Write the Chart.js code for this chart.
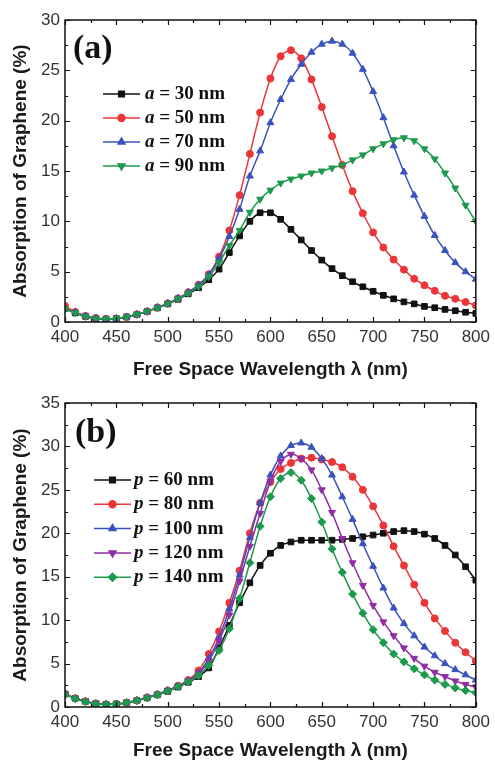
<!DOCTYPE html>
<html>
<head>
<meta charset="utf-8">
<script src="https://cdn.jsdelivr.net/npm/chart.js@4.4.1/dist/chart.umd.min.js"></script>
<style>
  html, body { margin: 0; padding: 0; background: #fff; }
  .panel { position: absolute; left: 0; width: 495px; }
  #panelA { top: 0; height: 380px; }
  #panelB { top: 380px; height: 381px; }
</style>
</head>
<body>
<div class="panel" id="panelA"><canvas id="chartA"></canvas></div>
<div class="panel" id="panelB"><canvas id="chartB"></canvas></div>
<script>
// Longueurs d'onde (nm), un point tous les 10 nm
const wavelength = [400, 410, 420, 430, 440, 450, 460, 470, 480, 490, 500,
  510, 520, 530, 540, 550, 560, 570, 580, 590, 600,
  610, 620, 630, 640, 650, 660, 670, 680, 690, 700,
  710, 720, 730, 740, 750, 760, 770, 780, 790, 800];

// (a) absorption pour différentes tailles a
const aSizes = [30, 50, 70, 90];
const a30 = [1.35, 0.9, 0.55, 0.35, 0.3, 0.35, 0.5, 0.75, 1.05, 1.4, 1.8,
  2.25, 2.8, 3.4, 4.2, 5.25, 6.9, 8.55, 10.0, 10.85, 10.85,
  10.2, 9.2, 8.15, 7.1, 6.15, 5.3, 4.6, 4.0, 3.5, 3.05,
  2.65, 2.3, 2.0, 1.8, 1.55, 1.42, 1.25, 1.12, 0.97, 0.85];
const a50 = [1.6, 1.0, 0.6, 0.4, 0.3, 0.35, 0.5, 0.75, 1.05, 1.45, 1.85,
  2.35, 2.95, 3.7, 4.75, 6.5, 9.1, 12.6, 16.7, 20.8, 24.2,
  26.4, 27.0, 26.2, 24.1, 21.35, 18.45, 15.6, 13.0, 10.8, 8.9,
  7.4, 6.2, 5.2, 4.3, 3.65, 3.1, 2.6, 2.3, 1.98, 1.65];
const a70 = [1.3, 0.95, 0.6, 0.4, 0.3, 0.35, 0.5, 0.75, 1.05, 1.45, 1.85,
  2.35, 2.95, 3.65, 4.7, 6.3, 8.5, 11.2, 14.5, 17.0, 19.8,
  22.1, 24.1, 25.6, 26.8, 27.6, 27.9, 27.6, 26.7, 25.1, 22.9,
  20.3, 17.5, 14.9, 12.6, 10.5, 8.6, 7.1, 5.9, 5.0, 4.25];
const a90 = [1.3, 0.9, 0.55, 0.35, 0.3, 0.35, 0.5, 0.75, 1.05, 1.4, 1.8,
  2.3, 2.85, 3.5, 4.5, 5.9, 7.6, 9.1, 10.9, 12.2, 13.1,
  13.8, 14.2, 14.5, 14.8, 15.0, 15.3, 15.6, 16.1, 16.6, 17.2,
  17.7, 18.1, 18.3, 18.0, 17.2, 16.2, 14.8, 13.3, 11.6, 10.0];

// (b) absorption pour différentes périodes p
const pSizes = [60, 80, 100, 120, 140];
const p60 = [1.5, 1.0, 0.65, 0.4, 0.3, 0.35, 0.5, 0.75, 1.05, 1.4, 1.8,
  2.3, 2.85, 3.5, 4.5, 6.8, 9.4, 12.0, 14.3, 16.3, 17.7,
  18.6, 19.0, 19.2, 19.2, 19.2, 19.2, 19.3, 19.4, 19.6, 19.8,
  20.0, 20.2, 20.3, 20.2, 19.9, 19.4, 18.6, 17.5, 16.15, 14.6];
const p80 = [1.5, 1.0, 0.65, 0.4, 0.3, 0.35, 0.5, 0.75, 1.1, 1.45, 1.9,
  2.45, 3.1, 4.2, 6.1, 8.7, 12.0, 15.7, 20.0, 23.5, 25.9,
  27.4, 28.1, 28.6, 28.7, 28.5, 28.2, 27.6, 26.5, 25.0, 23.1,
  20.9, 18.5, 16.3, 14.1, 12.0, 10.2, 8.75, 7.4, 6.3, 5.3];
const p100 = [1.5, 1.0, 0.65, 0.4, 0.3, 0.35, 0.5, 0.75, 1.1, 1.45, 1.9,
  2.4, 3.0, 3.9, 5.6, 8.0, 11.3, 15.2, 19.5, 23.5, 26.7,
  28.9, 30.1, 30.4, 29.9, 28.6, 26.7, 24.2, 21.6, 18.8, 16.2,
  13.7, 11.4, 9.6, 8.2, 6.9, 5.9, 5.0, 4.3, 3.7, 3.1];
const p120 = [1.5, 1.0, 0.65, 0.4, 0.3, 0.35, 0.5, 0.75, 1.1, 1.45, 1.9,
  2.4, 3.0, 3.8, 5.3, 7.6, 10.6, 14.5, 18.5, 22.3, 26.0,
  28.3, 29.1, 28.6, 27.3, 25.0, 22.4, 19.4, 16.6, 14.0, 11.7,
  9.8, 8.2, 6.8, 5.6, 4.7, 4.0, 3.5, 3.0, 2.6, 2.3];
const p140 = [1.45, 0.95, 0.6, 0.35, 0.3, 0.35, 0.5, 0.75, 1.05, 1.4, 1.85,
  2.35, 2.9, 3.6, 4.8, 6.5, 9.0, 12.5, 16.6, 20.8, 24.2,
  26.3, 27.0, 26.1, 24.0, 21.3, 18.2, 15.5, 13.0, 10.8, 8.9,
  7.4, 6.1, 5.2, 4.4, 3.7, 3.1, 2.6, 2.2, 1.9, 1.65];

const serif = '"Liberation Serif", "Times New Roman", serif';
const sans = '"Liberation Sans", Arial, sans-serif';

const BLACK = "#111111", RED = "#ec3538", BLUE = "#3a52bd", GREEN = "#1c9a4c", PURPLE = "#8f2fa3";

function makeSet(values, color, style, rot, radius, idx, total) {
  return {
    data: wavelength.map((w, i) => ({ x: w, y: values[i] })),
    borderColor: color,
    backgroundColor: color,
    borderWidth: 1.5,
    pointStyle: style,
    pointRotation: rot,
    pointRadius: radius,
    pointBorderWidth: 1,
    tension: 0.3,
    order: total - 1 - idx, // la dernière série passe au-dessus
  };
}

// Cadre + graduations vers l'intérieur sur les quatre côtés
const frameTicks = {
  id: "frameTicks",
  afterDatasetsDraw(chart) {
    const { ctx, chartArea: a, scales: { x, y } } = chart;
    ctx.save();
    ctx.strokeStyle = "#111";
    ctx.lineWidth = 1.2;
    ctx.beginPath();
    for (let v = x.min; v <= x.max; v += 25) {
      const px = Math.round(x.getPixelForValue(v)) + 0.5;
      const len = v % 50 === 0 ? 5 : 3;
      ctx.moveTo(px, a.bottom); ctx.lineTo(px, a.bottom - len);
      ctx.moveTo(px, a.top); ctx.lineTo(px, a.top + len);
    }
    for (let v = y.min; v <= y.max; v += 2.5) {
      const py = Math.round(y.getPixelForValue(v)) + 0.5;
      const len = v % 5 === 0 ? 5 : 3;
      ctx.moveTo(a.left, py); ctx.lineTo(a.left + len, py);
      ctx.moveTo(a.right, py); ctx.lineTo(a.right - len, py);
    }
    ctx.stroke();
    ctx.lineWidth = 1.5;
    ctx.strokeRect(a.left, a.top, a.right - a.left, a.bottom - a.top);
    ctx.restore();
  },
};

// Légende façon Origin : trait + symbole, variable en italique
const lineLegend = {
  id: "lineLegend",
  afterDraw(chart, args, opts) {
    const { ctx } = chart;
    ctx.save();
    chart.data.datasets.forEach((ds, i) => {
      const y = opts.top + i * opts.step;
      ctx.strokeStyle = ds.borderColor;
      ctx.lineWidth = 1.5;
      ctx.beginPath();
      ctx.moveTo(opts.x0, y);
      ctx.lineTo(opts.x1, y);
      ctx.stroke();
      ctx.fillStyle = ds.backgroundColor;
      Chart.helpers.drawPoint(ctx, { pointStyle: ds.pointStyle, rotation: ds.pointRotation, radius: ds.pointRadius, borderWidth: 1 }, (opts.x0 + opts.x1) / 2, y);
      ctx.fillStyle = "#111";
      ctx.textBaseline = "middle";
      ctx.font = "italic bold 19px " + serif;
      ctx.fillText(opts.varName, opts.textX, y);
      const w = ctx.measureText(opts.varName).width;
      ctx.font = "bold 19px " + serif;
      ctx.fillText(" = " + opts.sizes[i] + " nm", opts.textX + w, y);
    });
    ctx.font = "bold 34px " + serif;
    ctx.fillText(opts.panel, opts.panelX, opts.panelY);
    ctx.restore();
  },
};

function makeOptions(yMax, topPad, xHeight, legend) {
  return {
    responsive: true,
    maintainAspectRatio: false,
    devicePixelRatio: 1,
    animation: false,
    layout: { padding: { top: topPad, right: 16, left: 0, bottom: 0 } },
    plugins: { legend: { display: false }, tooltip: { enabled: false }, lineLegend: legend },
    scales: {
      x: {
        type: "linear", min: 400, max: 800,
        afterFit: (s) => { s.height = xHeight; },
        grid: { display: false, drawTicks: false },
        border: { display: false },
        ticks: { stepSize: 50, padding: 5, color: "#333", font: { family: sans, size: 17 }, maxRotation: 0 },
        title: { display: true, text: "Free Space Wavelength λ (nm)", color: "#1a1a1a",
          font: { family: sans, size: 19, weight: "bold", lineHeight: 1 }, padding: { top: 0, bottom: 1 } },
      },
      y: {
        min: 0, max: yMax,
        afterFit: (s) => { s.width = 65; },
        grid: { display: false, drawTicks: false },
        border: { display: false },
        ticks: { stepSize: 5, padding: 5, color: "#333", font: { family: sans, size: 17 } },
        title: { display: true, text: "Absorption of Graphene (%)", color: "#1a1a1a",
          font: { family: sans, size: 19, weight: "bold", lineHeight: 1 }, padding: { top: 11, bottom: 0 } },
      },
    },
  };
}

new Chart(document.getElementById("chartA"), {
  type: "line",
  data: {
    datasets: [
      makeSet(a30, BLACK, "rect", 0, 4, 0, 4),
      makeSet(a50, RED, "circle", 0, 3.5, 1, 4),
      makeSet(a70, BLUE, "triangle", 0, 4, 2, 4),
      makeSet(a90, GREEN, "triangle", 180, 4, 3, 4),
    ],
  },
  options: makeOptions(30, 20, 58, {
    varName: "a", sizes: aSizes, top: 94, step: 24, x0: 103, x1: 140, textX: 145,
    panel: "(a)", panelX: 73, panelY: 49,
  }),
  plugins: [frameTicks, lineLegend],
});

new Chart(document.getElementById("chartB"), {
  type: "line",
  data: {
    datasets: [
      makeSet(p60, BLACK, "rect", 0, 4, 0, 5),
      makeSet(p80, RED, "circle", 0, 3.5, 1, 5),
      makeSet(p100, BLUE, "triangle", 0, 4, 2, 5),
      makeSet(p120, PURPLE, "triangle", 180, 4, 3, 5),
      makeSet(p140, GREEN, "rectRot", 0, 4, 4, 5),
    ],
  },
  options: makeOptions(35, 23, 54, {
    varName: "p", sizes: pSizes, top: 100, step: 24.3, x0: 94, x1: 131, textX: 134,
    panel: "(b)", panelX: 75, panelY: 53,
  }),
  plugins: [frameTicks, lineLegend],
});
</script>
</body>
</html>
